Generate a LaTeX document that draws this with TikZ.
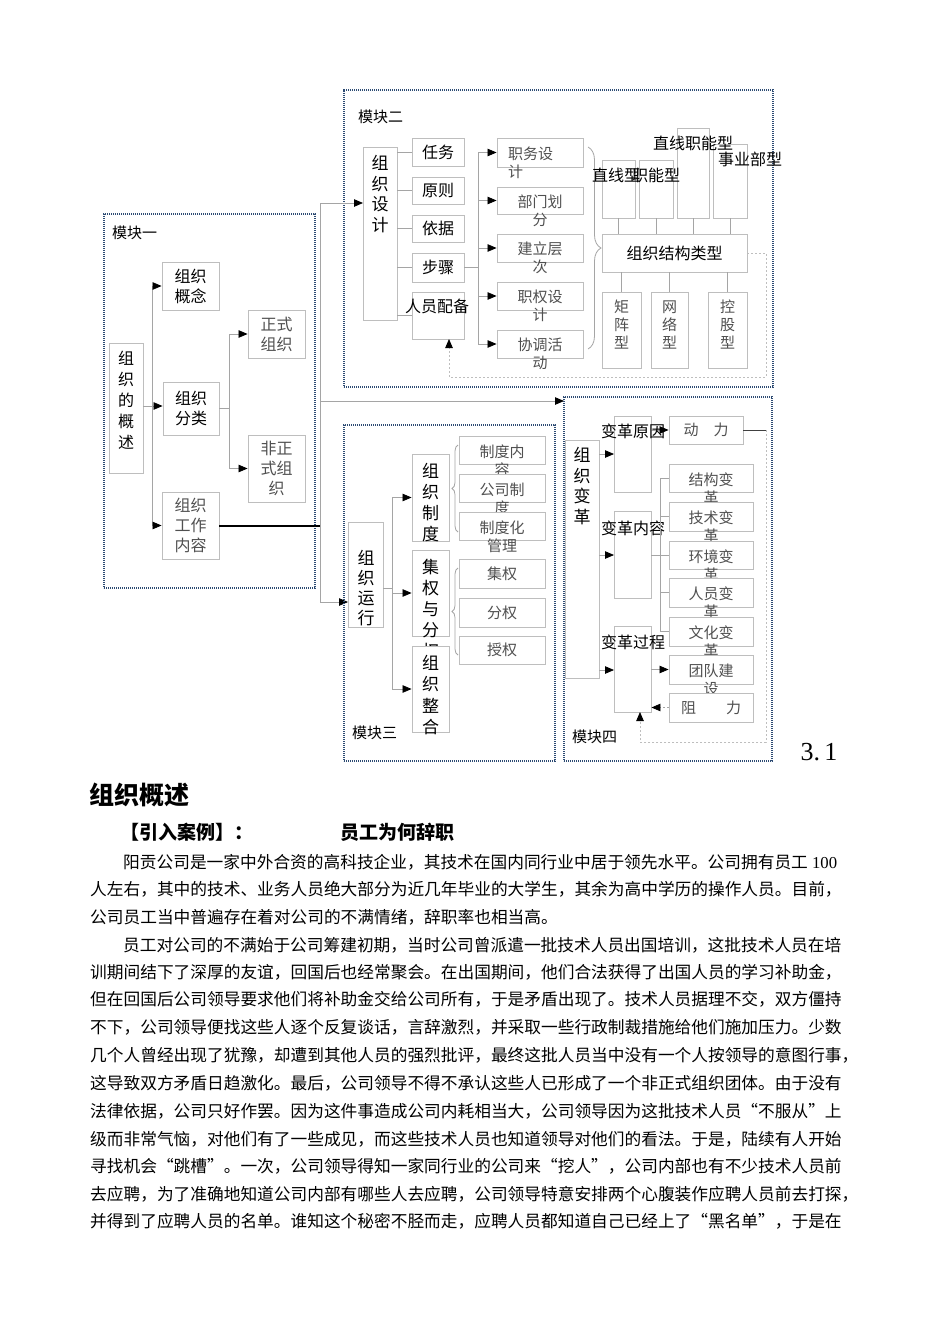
\documentclass[tikz,border=0pt]{standalone}
\usepackage{fontspec}
\setmainfont{Noto Sans CJK SC}
\newfontfamily\latserif{Liberation Serif}
\usetikzlibrary{arrows.meta,fit,decorations.pathreplacing}
\definecolor{bxc}{RGB}{190,190,190}
\definecolor{lnc}{RGB}{165,165,165}
\definecolor{gtx}{RGB}{80,80,80}
\definecolor{modc}{RGB}{45,75,115}
\newcommand\fsz[2]{\fontsize{#1}{#2}\selectfont}
\begin{document}
\begin{tikzpicture}[x=1pt,y=-1pt,
 box/.style={draw=bxc,fill=white,line width=0.9pt,inner sep=0pt},
 ln/.style={draw=lnc,line width=0.8pt},
 arr/.style={ln,-{Triangle[length=9pt,width=7.5pt,color=black]}},
 darr/.style={arr,dash pattern=on 2pt off 2pt},
 modbox/.style={draw=modc,line width=1.6pt,dash pattern=on 1.1pt off 0.9pt,inner sep=0pt},
 modlab/.style={font=\fsz{15}{18},anchor=west,inner sep=0pt},
 bt/.style={font=\fsz{16}{20},align=center,inner sep=0pt},
 vt/.style={font=\fsz{17}{20.5},align=center,inner sep=0pt},
 gt/.style={font=\fsz{15}{18},align=center,inner sep=0pt,text=gtx},
 body/.style={font=\fsz{16.7}{20},anchor=west,inner sep=0pt},
]
\useasboundingbox[fill=white] (0,0) rectangle (950,1344);

% ---------------- Module 1
\node[modbox,fit={(104,214)(315,588)}] (m1) {};
\node[modlab] (m1l) at (112,233) {模块一};
\node[box,fit={(109,343)(143,473)}] (gzgs) {};
\node[vt,font=\fsz{16}{21}] (gzgst) at (126,400) {组\\织\\的\\概\\述};
\node[box,fit={(162,262)(219,310)}] (gnc) {};
\node[bt] (gnct) at (gnc) {组织\\概念};
\node[box,fit={(163,382)(219,435)}] (gfl) {};
\node[bt] (gflt) at (gfl) {组织\\分类};
\node[box,fit={(162,492)(219,559)}] (ggz) {};
\node[gt,font=\fsz{16}{20}] (ggzt) at (ggz) {组织\\工作\\内容};
\node[box,fit={(248,310)(305,358)}] (zs) {};
\node[gt,font=\fsz{16}{20}] (zst) at (zs) {正式\\组织};
\node[box,fit={(248,435)(305,502)}] (fzs) {};
\node[gt,font=\fsz{16}{20}] (fzst) at (fzs) {非正\\式组\\织};

\coordinate (b1) at (152,406);
\draw[ln] (gzgs.east |- b1) -- (b1);
\draw[arr] (b1) |- (gnc.west);
\draw[arr] (b1) -- (gfl.west |- b1);
\draw[arr] (b1) |- (ggz.west);
\coordinate (b2) at (229,408);
\draw[ln] (gfl.east |- b2) -- (b2);
\draw[arr] (b2) |- (zs.west);
\draw[arr] (b2) |- (fzs.west);

% ---------------- Module 2
\node[modbox,fit={(344,90)(773,387)}] (m2) {};
\node[modlab] (m2l) at (358,117) {模块二};
\node[box,fit={(363,147)(397,320)}] (zzsj) {};
\node[vt] (zzsjt) at (380,194) {组\\织\\设\\计};
\node[box,fit={(412,138)(464,166)}] (rw) {};
\node[bt] (rwt) at (rw) {任务};
\node[box,fit={(412,177)(464,204)}] (yz) {};
\node[bt] (yzt) at (yz) {原则};
\node[box,fit={(412,215)(464,242)}] (yj) {};
\node[bt] (yjt) at (yj) {依据};
\node[box,fit={(412,253)(464,282)}] (bz) {};
\node[bt] (bzt) at (bz) {步骤};
\node[box,fit={(412,292)(464,339)}] (rypb) {};
\node[bt] (rypbt) at (437,306) {人员配备};
\foreach \n in {rw,yz,yj,bz,rypb} \draw[ln] (zzsj.east |- \n.west) -- (\n.west);

\node[box,fit={(497,138)(583,167)}] (zwsj) {};
\node[gt,align=left,anchor=west] (zwsjt) at (508,163) {职务设\\计};
\node[box,fit={(497,187)(583,214)}] (bmhf) {};
\node[gt] (bmhft) at (540,211) {部门划\\分};
\node[box,fit={(497,234)(583,262)}] (jlcc) {};
\node[gt] (jlcct) at (540,258) {建立层\\次};
\node[box,fit={(497,282)(583,310)}] (zqsj) {};
\node[gt] (zqsjt) at (540,306) {职权设\\计};
\node[box,fit={(497,330)(583,358)}] (xthd) {};
\node[gt] (xthdt) at (540,354) {协调活\\动};
\coordinate (b3) at (478,267.5);
\draw[ln] (bz.east) -- (b3);
\foreach \n in {zwsj,bmhf,jlcc,zqsj,xthd} \draw[arr] (b3) |- (\n.west);

\draw[ln,decorate,decoration={brace,amplitude=13pt}] (588,147) -- (588,349);

\node[box,fit={(602,234)(747,272)}] (jglx) {};
\node[bt] (jglxt) at (jglx) {组织结构类型};
\node[box,fit={(602,160)(635,218)}] (zx) {};
\node[box,fit={(639,160)(673,218)}] (zn) {};
\node[box,fit={(677,128)(709,218)}] (zxzn) {};
\node[box,fit={(713,144)(747,218)}] (sybx) {};
\node[bt] (zxt) at (616,175) {直线型};
\node[bt] (znt) at (656,175) {职能型};
\node[bt] (zxznt) at (693,143) {直线职能型};
\node[bt] (sybxt) at (750,159) {事业部型};
\foreach \n in {zx,zn,zxzn,sybx} \draw[ln] (\n.south) -- (\n.south |- jglx.north);
\node[box,fit={(602,292)(641,368)}] (jz) {};
\node[gt] (jzt) at (621.5,325) {矩\\阵\\型};
\node[box,fit={(651,292)(688,368)}] (wl) {};
\node[gt] (wlt) at (669.5,325) {网\\络\\型};
\node[box,fit={(708,292)(747,368)}] (kg) {};
\node[gt] (kgt) at (727.5,325) {控\\股\\型};
\foreach \n in {jz,wl,kg} \draw[ln] (\n.north |- jglx.south) -- (\n.north);
\coordinate (f1) at (766,377);
\coordinate (f2) at (449,339);
\draw[darr,draw=bxc] (jglx.east) -| (f1) -| (f2);

% ---------------- connections between modules
\coordinate (J) at (320,526);
\coordinate (a2) at (363,203);
\coordinate (a3) at (348,602);
\coordinate (a4) at (564,401);
\draw[arr] (J) |- (a2);
\draw[arr] (J) |- (a3);
\draw[arr] (J) |- (a4);
\draw[black,line width=1.3pt] (ggz.east |- J) -- (J);

% ---------------- Module 3
\node[modbox,fit={(344,425)(555,761)}] (m3) {};
\node[modlab] (m3l) at (352,733) {模块三};
\node[box,fit={(348,522)(383,627)}] (zzyx) {};
\node[vt,font=\fsz{17}{20}] (zzyxt) at (366,588) {组\\织\\运\\行};
\node[box,fit={(412,454)(449,541)}] (zzzd) {};
\node[vt,font=\fsz{17}{21}] (zzzdt) at (430.5,503) {组\\织\\制\\度};
\node[box,fit={(412,550)(449,636)}] (jqyfq) {};
\begin{scope}
\clip (412,550) rectangle (449,646);
\node[vt,font=\fsz{17}{21}] (jqyfqt) at (430.5,609) {集\\权\\与\\分\\权};
\end{scope}
\node[box,fit={(412,646)(449,732)}] (zzzh) {};
\node[vt,font=\fsz{17}{21.5}] (zzzht) at (430.5,695) {组\\织\\整\\合};
\coordinate (b4) at (392,588);
\draw[ln] (zzyx.east |- b4) -- (b4);
\draw[arr] (b4) |- (zzzd.west);
\draw[arr] (b4) |- (jqyfq.west);
\draw[arr] (b4) |- (zzzh.west);

\node[box,fit={(459,436)(545,464)}] (zdnr) {};
\node[gt] (zdnrt) at (502,461) {制度内\\容};
\node[box,fit={(459,474)(545,502)}] (gszd) {};
\node[gt] (gszdt) at (502,499) {公司制\\度};
\node[box,fit={(459,512)(545,540)}] (zdhgl) {};
\node[gt] (zdhglt) at (502,537) {制度化\\管理};
\node[box,fit={(459,559)(545,588)}] (jq) {};
\node[gt] (jqt) at (jq) {集权};
\node[box,fit={(459,598)(545,627)}] (fq) {};
\node[gt] (fqt) at (fq) {分权};
\node[box,fit={(459,636)(545,664)}] (sq) {};
\node[gt] (sqt) at (sq) {授权};
\draw[ln,decorate,decoration={brace,amplitude=6pt}] (458,532) -- (458,445);
\draw[ln,decorate,decoration={brace,amplitude=6pt}] (458,655) -- (458,568);

% ---------------- Module 4
\node[modbox,fit={(564,397)(772,761)}] (m4) {};
\node[modlab] (m4l) at (572,737) {模块四};
\node[box,fit={(565,440)(599,678)}] (zzbg) {};
\node[vt,font=\fsz{17}{20.7}] (zzbgt) at (582,486) {组\\织\\变\\革};
\node[box,fit={(614,416)(651,492)}] (bgyy) {};
\node[box,fit={(614,511)(651,598)}] (bgnr) {};
\node[box,fit={(614,626)(651,712)}] (bggc) {};
\coordinate (c1) at (614,454);
\coordinate (c2) at (614,555);
\coordinate (c3) at (614,670);
\draw[arr] (zzbg.east |- c1) -- (c1);
\draw[arr] (zzbg.east |- c2) -- (c2);
\draw[arr] (zzbg.east |- c3) -- (c3);

\node[box,fit={(669,416)(743,444)}] (dl) {};
\node[gt] (dlt) at (dl) {动　力};
\draw[arr] (bgyy.east |- dl.west) -- (dl.west);
\node[bt] (bgyyt) at (633,431) {变革原因};
\node[bt] (bgnrt) at (633,528) {变革内容};
\node[bt] (bggct) at (633,642) {变革过程};

\node[box,fit={(669,464)(753,492)}] (jgbg) {};
\node[gt] (jgbgt) at (711,489) {结构变\\革};
\node[box,fit={(669,502)(753,531)}] (jsbg) {};
\node[gt] (jsbgt) at (711,527) {技术变\\革};
\node[box,fit={(669,541)(753,569)}] (hjbg) {};
\node[gt] (hjbgt) at (711,566) {环境变\\革};
\node[box,fit={(669,578)(753,607)}] (rybg) {};
\node[gt] (rybgt) at (711,603) {人员变\\革};
\node[box,fit={(669,617)(753,646)}] (whbg) {};
\node[gt] (whbgt) at (711,642) {文化变\\革};
\node[box,fit={(669,655)(753,684)}] (tdjs) {};
\node[gt] (tdjst) at (711,680) {团队建\\设};
\node[box,fit={(669,693)(753,722)}] (zl) {};
\node[gt] (zlt) at (zl) {阻　　力};

\coordinate (b5) at (660,555);
\draw[ln] (bgnr.east |- b5) -- (b5);
\draw[ln] (jgbg.west) -| (b5);
\draw[ln] (whbg.west) -| (b5);
\draw[ln] (jsbg.west) -- (jsbg.west -| b5);
\draw[ln] (hjbg.west) -- (hjbg.west -| b5);
\draw[ln] (rybg.west) -- (rybg.west -| b5);
\draw[arr] (bggc.east |- tdjs.west) -- (tdjs.west);
\draw[darr] (zl.west) -- (bggc.east |- zl.west);
\coordinate (g1) at (766,430);
\coordinate (g2) at (766,742);
\coordinate (g3) at (640,712);
\draw[black!75,line width=0.8pt] (dl.east) -- (g1);
\draw[darr,draw=bxc] (g1) -- (g2) -| (g3);

\node[font=\latserif\fsz{26}{26},inner sep=0pt] (num) at (819,752) {3.\,1};

% ---------------- Text
\node[anchor=west,inner sep=0pt,font=\fsz{25}{25}\bfseries] (h1) at (89,795) {组织概述};
\node[anchor=west,inner sep=0pt,font=\fsz{19}{19}\bfseries] (h2) at (120,832) {【引入案例】：};
\node[anchor=west,inner sep=0pt,font=\fsz{19}{19}\bfseries] (h3) at (340,832) {员工为何辞职};

\node[body] (p1) at (123,862) {阳贡公司是一家中外合资的高科技企业，其技术在国内同行业中居于领先水平。公司拥有员工{\latserif\ 100}};
\node[body] (p2) at (90,889) {人左右，其中的技术、业务人员绝大部分为近几年毕业的大学生，其余为高中学历的操作人员。目前，};
\node[body] (p3) at (90,917) {公司员工当中普遍存在着对公司的不满情绪，辞职率也相当高。};
\node[body] (p4) at (123,945) {员工对公司的不满始于公司筹建初期，当时公司曾派遣一批技术人员出国培训，这批技术人员在培};
\node[body] (p5) at (90,972) {训期间结下了深厚的友谊，回国后也经常聚会。在出国期间，他们合法获得了出国人员的学习补助金，};
\node[body] (p6) at (90,999) {但在回国后公司领导要求他们将补助金交给公司所有，于是矛盾出现了。技术人员据理不交，双方僵持};
\node[body] (p7) at (90,1027) {不下，公司领导便找这些人逐个反复谈话，言辞激烈，并采取一些行政制裁措施给他们施加压力。少数};
\node[body] (p8) at (90,1055) {几个人曾经出现了犹豫，却遭到其他人员的强烈批评，最终这批人员当中没有一个人按领导的意图行事，};
\node[body] (p9) at (90,1083) {这导致双方矛盾日趋激化。最后，公司领导不得不承认这些人已形成了一个非正式组织团体。由于没有};
\node[body] (p10) at (90,1111) {法律依据，公司只好作罢。因为这件事造成公司内耗相当大，公司领导因为这批技术人员“不服从”上};
\node[body] (p11) at (90,1139) {级而非常气恼，对他们有了一些成见，而这些技术人员也知道领导对他们的看法。于是，陆续有人开始};
\node[body] (p12) at (90,1166) {寻找机会“跳槽”。一次，公司领导得知一家同行业的公司来“挖人”，公司内部也有不少技术人员前};
\node[body] (p13) at (90,1194) {去应聘，为了准确地知道公司内部有哪些人去应聘，公司领导特意安排两个心腹装作应聘人员前去打探，};
\node[body] (p14) at (90,1221) {并得到了应聘人员的名单。谁知这个秘密不胫而走，应聘人员都知道自己已经上了“黑名单”，于是在};
\end{tikzpicture}
\end{document}
